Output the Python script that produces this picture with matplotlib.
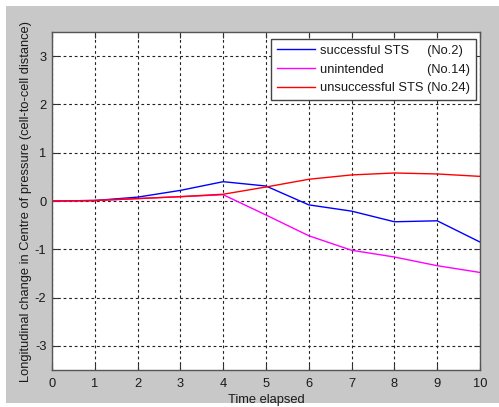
import matplotlib
matplotlib.use("Agg")
import matplotlib.pyplot as plt
from matplotlib.patches import Rectangle

plt.rcParams['font.family'] = ['Liberation Sans', 'DejaVu Sans']
plt.rcParams['axes.unicode_minus'] = False

# values
time = [0, 1, 2, 3, 4, 5, 6, 7, 8, 9, 10]
successful = [0, 0.01, 0.08, 0.22, 0.40, 0.31, -0.08, -0.21, -0.43, -0.41, -0.85]
unintended = [0, 0.01, 0.05, 0.09, 0.13, -0.29, -0.72, -1.02, -1.16, -1.34, -1.48]
unsuccessful = [0, 0.01, 0.05, 0.09, 0.14, 0.29, 0.45, 0.54, 0.58, 0.56, 0.51]
labels = ["successful STS" + " " * 5 + "(No.2)",
          "unintended" + " " * 12 + "(No.14)",
          "unsuccessful STS (No.24)"]
xticks = list(range(0, 11))
yticks = [-3, -2, -1, 0, 1, 2, 3]

FS = 9.3
W, H = 499, 407
fig = plt.figure(figsize=(W / 100, H / 100), dpi=100, facecolor='white')
# grey MATLAB figure background, with thin white margin top/left/bottom
fig.patches.append(Rectangle((6 / W, 4 / H), 1 - 6 / W, 1 - 10 / H,
                             transform=fig.transFigure, facecolor='#c8c8c8',
                             edgecolor='none', zorder=-10))

ax = fig.add_axes([52 / W, 37 / H, 428 / W, 338 / H])
ax.set_facecolor('white')

ax.plot(time, successful, color='#0000ff', lw=1.0, label=labels[0])
ax.plot(time, unintended, color='#ff00ff', lw=1.0, label=labels[1])
ax.plot(time, unsuccessful, color='#ff0000', lw=1.0, label=labels[2])

ax.set_xlim(0, 10)
ax.set_ylim(-3.5, 3.5)
ax.set_xticks(xticks)
ax.set_yticks(yticks)
ax.tick_params(direction='in', length=4, width=0.8, top=True, right=True,
               labelsize=FS, colors='#333333', labelcolor='#1a1a1a', pad=4)
ax.tick_params(axis='x', pad=5.5)
ax.grid(True, color='#222222', linestyle=(0, (2.5, 2.5)), linewidth=0.8)
for s in ax.spines.values():
    s.set_color('#555555')
    s.set_linewidth(1.0)

ax.set_xlabel('Time elapsed', fontsize=FS, color='#1a1a1a', labelpad=3)
ax.set_ylabel('Longitudinal change in Centre of pressure (cell-to-cell distance)',
              fontsize=FS, color='#1a1a1a', labelpad=2)

leg = ax.legend(loc='upper right', fontsize=FS, frameon=True, fancybox=False,
                edgecolor='#444444', framealpha=1, handlelength=2.95,
                handletextpad=0.39, borderaxespad=0.0, labelspacing=0.52,
                borderpad=0.45, bbox_to_anchor=(0.9907, 0.9793))
leg.get_frame().set_linewidth(1.0)
for t in leg.get_texts():
    t.set_color('#1a1a1a')

fig.savefig('out.png', dpi=100, facecolor=fig.get_facecolor())
